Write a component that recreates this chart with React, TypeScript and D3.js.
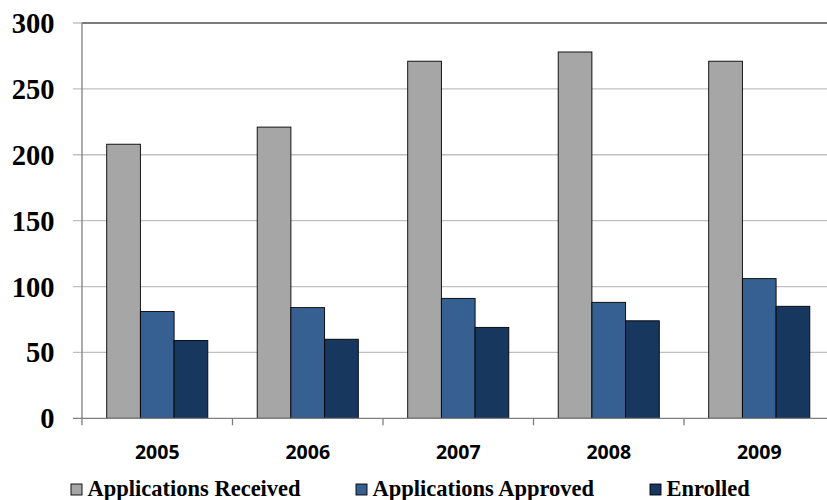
import React from 'react';
import * as d3 from 'd3';

const years = ['2005', '2006', '2007', '2008', '2009'];
const seriesNames = ['Applications Received', 'Applications Approved', 'Enrolled'];
const received = [208, 221, 271, 278, 271];
const approved = [81, 84, 91, 88, 106];
const enrolled = [59, 60, 69, 74, 85];
const yTicks = [0, 50, 100, 150, 200, 250, 300];

const colours = ['#A6A6A6', '#376092', '#17375E'];

export default function App() {
    const width = 827;
    const height = 500;
    const marginLeft = 82;
    const plotRight = 834.5;
    const marginTop = 23;
    const plotBottom = 418.3;

    const values = [received, approved, enrolled];

    const scaleX = d3.scaleBand()
        .domain(years)
        .range([marginLeft, plotRight])
        .padding(0);
    const scaleSeries = d3.scaleBand()
        .domain(seriesNames)
        .range([0, scaleX.bandwidth()])
        .paddingInner(0)
        .paddingOuter(0.733);
    const scaleY = d3.scaleLinear()
        .domain([0, 300])
        .range([plotBottom, marginTop]);

    const boundaries = years.map(y => scaleX(y) as number).concat([plotRight]);

    const legendX = [71, 356, 650];

    return (
        <svg width={width} height={height} viewBox={`0 0 ${width} ${height}`}
            style={{ position: 'absolute', left: 0, top: 0, background: '#fff' }}>
            {/* gridlines */}
            {yTicks.filter(t => t > 0).map(t => (
                <line key={'g' + t} x1={73} x2={width} y1={scaleY(t)} y2={scaleY(t)}
                    stroke="#C0C0C0" strokeWidth={1.3} />
            ))}
            <line x1={marginLeft} x2={width} y1={scaleY(300)} y2={scaleY(300)} stroke="#5F5F5F" strokeWidth={1.3} />

            {/* bars */}
            {values.map((vals, si) => vals.map((v, i) => {
                const x = (scaleX(years[i]) as number) + (scaleSeries(seriesNames[si]) as number);
                return (
                    <rect key={`${si}-${i}`} x={x} y={scaleY(v)}
                        width={scaleSeries.bandwidth()} height={plotBottom - scaleY(v)}
                        fill={colours[si]} stroke="#000" strokeWidth={0.9} />
                );
            }))}

            {/* axes */}
            <line x1={marginLeft} x2={marginLeft} y1={marginTop} y2={plotBottom} stroke="#7F7F7F" strokeWidth={1.3} />
            <line x1={73} x2={width} y1={plotBottom} y2={plotBottom} stroke="#7F7F7F" strokeWidth={1.3} />
            {boundaries.map((b, i) => (
                <line key={'t' + i} x1={b} x2={b} y1={plotBottom} y2={plotBottom + 7} stroke="#7F7F7F" strokeWidth={1.3} />
            ))}

            {yTicks.map(t => (
                <text key={'y' + t} x={54.5} y={scaleY(t) + 10} textAnchor="end"
                    fontFamily="'Liberation Serif', 'Times New Roman', serif" fontWeight="bold" fontSize={28.5}
                    fill="#000">{t}</text>
            ))}

            {years.map(y => (
                <text key={'x' + y} x={(scaleX(y) as number) + scaleX.bandwidth() / 2} y={459}
                    textAnchor="middle" fontFamily="'Open Sans', sans-serif" fontWeight="bold" fontSize={19.5}
                    fill="#000">{y}</text>
            ))}

            {/* legend */}
            {seriesNames.map((s, i) => (
                <g key={'l' + s} transform={`translate(${legendX[i]}, 0)`}>
                    <rect x={0} y={484} width={11} height={11} fill={colours[i]} stroke="#000" strokeWidth={0.9} />
                    <text x={16.5} y={496} fontFamily="'Liberation Serif', 'Times New Roman', serif"
                        fontWeight="bold" fontSize={22.5} fill="#000">{s}</text>
                </g>
            ))}
        </svg>
    );
}
